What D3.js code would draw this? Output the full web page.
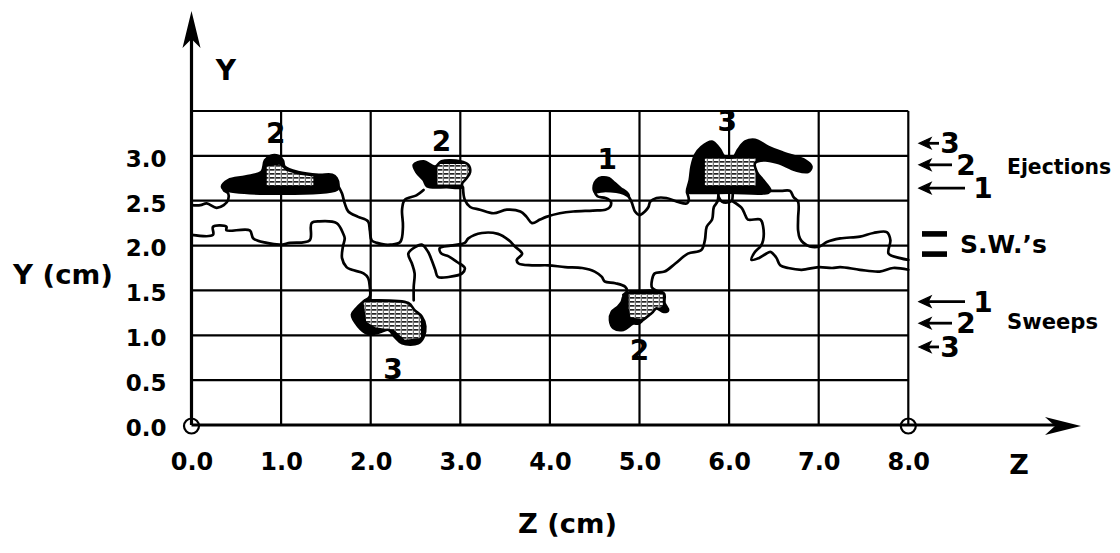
<!DOCTYPE html>
<html><head><meta charset="utf-8">
<script src="https://cdn.jsdelivr.net/npm/d3@7"></script>
<style>
body{margin:0;background:#fff}
svg{display:block}
text{font-family:"DejaVu Sans",sans-serif;font-weight:bold;fill:#000}
</style>
</head><body>
<svg id="chart" width="1120" height="553"></svg>
<script>
// ---------- data ----------
const zTicks = [0,1,2,3,4,5,6,7,8];
const zTickLabels = ["0.0","1.0","2.0","3.0","4.0","5.0","6.0","7.0","8.0"];
const yTicks = [0,0.5,1.0,1.5,2.0,2.5,3.0];
const yTickLabels = ["0.0","0.5","1.0","1.5","2.0","2.5","3.0"];
const gridZ = [1,2,3,4,5,6,7,8];
const gridY = [0.5,1.0,1.5,2.0,2.5,3.0,3.5];

// interface traces (z, y) in cm
const line1a = [[0,2.45],[0.1,2.45],[0.17,2.47],[0.28,2.42],[0.36,2.45],[0.41,2.51],[0.41,2.58],[0.36,2.62],[0.37,2.66]];
const line1b = [[1.64,2.66],[1.68,2.58],[1.71,2.47],[1.75,2.38],[1.86,2.32],[1.97,2.27],[1.99,2.17],[2.01,2.06],[2.07,2.03],[2.16,2.01],[2.22,2.01],[2.33,2.04],[2.36,2.21],[2.35,2.40],[2.38,2.51],[2.51,2.56],[2.59,2.62]];
const line1c = [[3.03,2.65],[3.05,2.51],[3.11,2.43],[3.22,2.40],[3.37,2.36],[3.52,2.40],[3.67,2.38],[3.74,2.32],[3.80,2.25],[3.89,2.29],[3.96,2.32],[4.11,2.36],[4.26,2.38],[4.48,2.39],[4.62,2.40],[4.67,2.43],[4.68,2.49],[4.62,2.53],[4.53,2.55],[4.50,2.60]];
const line1d = [[4.87,2.56],[4.91,2.49],[4.93,2.43],[4.95,2.38],[5.0,2.34],[5.06,2.38],[5.10,2.43],[5.12,2.49],[5.19,2.53],[5.30,2.53],[5.42,2.49],[5.53,2.47],[5.55,2.51],[5.53,2.59]];
const line1e = [[6.46,2.61],[6.58,2.61],[6.68,2.61],[6.72,2.54],[6.77,2.49],[6.77,2.30],[6.77,2.17],[6.79,2.08],[6.83,2.03],[6.90,1.99],[7.01,1.99],[7.09,2.04],[7.24,2.08],[7.46,2.10],[7.61,2.14],[7.76,2.15],[7.80,2.06],[7.78,1.91],[7.91,1.86],[8.0,1.84]];
const line2 = [[0,2.12],[0.24,2.12],[0.24,2.21],[0.39,2.21],[0.39,2.17],[0.65,2.17],[0.69,2.08],[0.84,2.03],[0.99,2.01],[1.10,2.03],[1.32,2.06],[1.34,2.25],[1.43,2.27],[1.62,2.25],[1.69,2.14],[1.71,2.08],[1.69,1.99],[1.68,1.86],[1.73,1.76],[1.79,1.73],[1.92,1.69],[1.97,1.64],[1.99,1.54],[1.99,1.43],[1.94,1.39]];
const line3 = [[2.48,1.39],[2.48,1.54],[2.49,1.69],[2.46,1.80],[2.42,1.91],[2.49,1.98],[2.57,2.01],[2.64,1.93],[2.68,1.84],[2.72,1.73],[2.75,1.65],[2.87,1.65],[3.02,1.69],[3.05,1.75],[2.96,1.82],[2.87,1.88],[2.79,1.91],[2.77,1.97],[2.89,2.0],[3.05,2.03],[3.09,2.08],[3.24,2.14],[3.42,2.13],[3.54,2.06],[3.61,1.99],[3.69,1.91],[3.63,1.84],[3.65,1.80],[3.80,1.78],[3.98,1.78],[4.17,1.76],[4.36,1.75],[4.50,1.71],[4.58,1.65],[4.61,1.60],[4.73,1.58],[4.84,1.54],[4.86,1.49],[4.82,1.45]];
const line4 = [[5.27,1.40],[5.23,1.47],[5.14,1.53],[5.14,1.62],[5.17,1.69],[5.28,1.71],[5.40,1.80],[5.54,1.91],[5.69,1.95],[5.73,2.06],[5.75,2.21],[5.81,2.29],[5.83,2.43],[5.87,2.49],[5.88,2.55],[5.88,2.60]];
const loopE3 = [[5.88,2.55],[5.92,2.49],[5.98,2.48],[6.03,2.50],[6.04,2.56],[6.04,2.60]];
const line6 = [[6.03,2.50],[6.14,2.42],[6.18,2.34],[6.21,2.29],[6.35,2.29],[6.38,2.21],[6.38,2.06],[6.35,1.99],[6.29,1.93],[6.25,1.84],[6.33,1.86],[6.40,1.90],[6.46,1.93],[6.49,1.91],[6.53,1.86],[6.57,1.78],[6.66,1.75],[6.81,1.73],[7.0,1.76],[7.15,1.75],[7.24,1.76],[7.46,1.73],[7.68,1.71],[7.83,1.75],[8.0,1.73]];

// events (blobs) and their stippled cores
const blobE2a = [[0.34,2.66],[0.41,2.73],[0.6,2.77],[0.78,2.82],[0.82,2.95],[0.88,3.0],[0.97,3.0],[1.02,2.95],[1.04,2.88],[1.19,2.82],[1.42,2.79],[1.57,2.79],[1.62,2.75],[1.64,2.66],[1.62,2.62],[0.37,2.62]];
const coreE2a = [[0.84,2.88],[0.98,2.9],[1.06,2.83],[1.2,2.79],[1.36,2.77],[1.36,2.67],[0.84,2.67]];
const blobE2b = [[2.48,2.90],[2.59,2.94],[2.72,2.88],[2.79,2.94],[3.0,2.94],[3.09,2.90],[3.11,2.82],[3.07,2.75],[3.02,2.69],[3.02,2.65],[2.85,2.65],[2.63,2.66],[2.59,2.73],[2.51,2.82]];
const coreE2b = [[2.74,2.91],[3.1,2.91],[3.1,2.68],[2.74,2.68]];
const blobE1 = [[4.50,2.60],[4.49,2.67],[4.52,2.73],[4.58,2.76],[4.66,2.75],[4.72,2.70],[4.79,2.64],[4.86,2.59],[4.88,2.55],[4.82,2.58],[4.74,2.60],[4.62,2.61]];
const blobE3 = [[5.53,2.60],[5.56,2.73],[5.58,2.88],[5.62,3.01],[5.69,3.10],[5.81,3.16],[5.84,3.14],[5.90,3.07],[5.95,2.99],[6.05,2.99],[6.10,3.07],[6.18,3.16],[6.29,3.18],[6.44,3.10],[6.62,3.03],[6.85,2.95],[6.92,2.88],[6.88,2.82],[6.74,2.84],[6.55,2.92],[6.40,2.95],[6.29,2.92],[6.31,2.82],[6.38,2.73],[6.46,2.62],[6.44,2.59],[6.0,2.59],[5.55,2.59]];
const coreE3 = [[5.73,2.97],[6.30,2.97],[6.30,2.67],[5.73,2.67]];
const blobS3 = [[1.94,1.39],[2.01,1.39],[2.42,1.36],[2.49,1.28],[2.57,1.21],[2.61,1.10],[2.59,0.98],[2.53,0.91],[2.35,0.91],[2.27,0.98],[2.20,1.06],[2.12,1.04],[2.05,1.02],[1.96,1.02],[1.86,1.10],[1.79,1.23],[1.84,1.30],[1.90,1.36]];
const coreS3 = [[1.92,1.37],[2.45,1.37],[2.56,1.2],[2.56,0.97],[2.38,0.95],[2.26,1.06],[2.05,1.09],[1.95,1.15]];
const blobS2 = [[4.86,1.47],[5.27,1.47],[5.28,1.36],[5.32,1.28],[5.27,1.26],[5.19,1.30],[5.14,1.25],[5.04,1.17],[4.99,1.13],[4.93,1.13],[4.82,1.06],[4.71,1.08],[4.67,1.17],[4.69,1.26],[4.76,1.32],[4.80,1.37],[4.82,1.43]];
const coreS2 = [[4.88,1.46],[5.26,1.46],[5.26,1.33],[5.12,1.24],[5.02,1.18],[4.9,1.2],[4.88,1.3]];

// event number labels
const eventLabels = ["2","2","1","3","3","2"];
const eventPos = [[0.94,3.26],[2.79,3.17],[4.64,2.97],[5.98,3.39],[2.25,0.62],[5.0,0.84]];

// right-side annotations
const ejectLabels = ["3","2","1"];
const ejectLevels = [3.14,2.90,2.64];
const sweepLabels = ["1","2","3"];
const sweepLevels = [1.375,1.135,0.87];
const swLevels = [2.13,1.905];

// ---------- drawing ----------
const svg = d3.select("#chart");
const x = d3.scaleLinear().domain([0,8]).range([191.5,908.3]);
const y = d3.scaleLinear().domain([0,3.5]).range([425,111]);

const defs = svg.append("defs");
const pat = defs.append("pattern").attr("id","stip").attr("patternUnits","userSpaceOnUse")
  .attr("width",6).attr("height",4);
pat.append("rect").attr("width",6).attr("height",4).attr("fill","#fff");
pat.append("rect").attr("x",0).attr("y",1.0).attr("width",4.5).attr("height",1.7).attr("fill","#222");
pat.append("rect").attr("x",4.8).attr("y",0).attr("width",1.1).attr("height",4).attr("fill","#666");

// grid
const grid = svg.append("g").attr("stroke","#000").attr("stroke-width",2.2);
grid.selectAll("line.v").data(gridZ).join("line").attr("class","v")
  .attr("x1",d=>x(d)).attr("x2",d=>x(d)).attr("y1",y(0)).attr("y2",y(3.5));
grid.selectAll("line.h").data(gridY).join("line").attr("class","h")
  .attr("x1",x(0)).attr("x2",x(8)).attr("y1",d=>y(d)).attr("y2",d=>y(d));

// interface lines
const lineGen = d3.line().x(d=>x(d[0])).y(d=>y(d[1])).curve(d3.curveCatmullRom.alpha(0.5));
const traces = [line1a,line1b,line1c,line1d,line1e,line2,line3,line4,loopE3,line6];
svg.append("g").selectAll("path").data(traces).join("path")
  .attr("d",lineGen).attr("fill","none").attr("stroke","#000")
  .attr("stroke-width",2.7).attr("stroke-linejoin","round").attr("stroke-linecap","round");

// blobs
const blobGen = d3.line().x(d=>x(d[0])).y(d=>y(d[1])).curve(d3.curveCatmullRomClosed.alpha(0.5));
const coreGen = d3.line().x(d=>x(d[0])).y(d=>y(d[1])).curve(d3.curveLinearClosed);
const blobs = [
  {id:"e2a", shape:blobE2a, core:coreE2a},
  {id:"e2b", shape:blobE2b, core:coreE2b},
  {id:"e1",  shape:blobE1,  core:null},
  {id:"e3",  shape:blobE3,  core:coreE3},
  {id:"s3",  shape:blobS3,  core:coreS3},
  {id:"s2",  shape:blobS2,  core:coreS2}
];
blobs.forEach(b=>{
  defs.append("clipPath").attr("id","clip-"+b.id).append("path").attr("d",blobGen(b.shape));
  const g = svg.append("g");
  g.append("path").attr("d",blobGen(b.shape)).attr("fill","#000");
  if(b.core){
    g.append("path").attr("d",coreGen(b.core)).attr("fill","url(#stip)")
      .attr("clip-path","url(#clip-"+b.id+")");
  }
  g.append("path").attr("d",blobGen(b.shape)).attr("fill","none").attr("stroke","#000").attr("stroke-width",2.6);
});

// event labels
svg.append("g").selectAll("text").data(eventLabels).join("text")
  .attr("x",(d,i)=>x(eventPos[i][0])).attr("y",(d,i)=>y(eventPos[i][1]))
  .attr("dy","0.36em").attr("text-anchor","middle").attr("font-size",28).text(d=>d);

// axes lines
svg.append("line").attr("x1",x(0)).attr("x2",x(0)).attr("y1",y(0)).attr("y2",30)
  .attr("stroke","#000").attr("stroke-width",3.2);
svg.append("path").attr("d",`M${x(0)},11 L${x(0)-9},48 L${x(0)},39 L${x(0)+9},48 Z`).attr("fill","#000");
svg.append("line").attr("x1",x(0)).attr("x2",1062).attr("y1",y(0)).attr("y2",y(0))
  .attr("stroke","#000").attr("stroke-width",2.8);
svg.append("path").attr("d",`M1081,${y(0)+1} L1045,${y(0)-8} L1055,${y(0)+1} L1045,${y(0)+10} Z`).attr("fill","#000");
svg.selectAll("circle.org").data([0,8]).join("circle").attr("class","org")
  .attr("cx",d=>x(d)).attr("cy",y(0)+1).attr("r",7.5)
  .attr("fill","none").attr("stroke","#000").attr("stroke-width",2.2);

// tick labels via axes
const gx = svg.append("g").attr("transform",`translate(0,${y(0)})`)
  .call(d3.axisBottom(x).tickValues(zTicks).tickFormat((d,i)=>zTickLabels[i]).tickSize(0).tickPadding(28));
gx.select(".domain").remove();
gx.attr("font-family","DejaVu Sans").attr("font-size",24).attr("font-weight","bold");
gx.selectAll("text").attr("fill","#000");

const gy = svg.append("g").attr("transform",`translate(${x(0)},3)`)
  .call(d3.axisLeft(y).tickValues(yTicks).tickFormat((d,i)=>yTickLabels[i]).tickSize(0).tickPadding(25));
gy.select(".domain").remove();
gy.attr("font-family","DejaVu Sans").attr("font-size",23).attr("font-weight","bold");
gy.selectAll("text").attr("fill","#000");

// axis titles
svg.append("text").attr("x",226).attr("y",80).attr("text-anchor","middle").attr("font-size",28).text("Y");
svg.append("text").attr("x",1019).attr("y",474).attr("text-anchor","middle").attr("font-size",27).text("Z");
svg.append("text").attr("x",13).attr("y",284).attr("font-size",26).attr("textLength",100)
  .attr("lengthAdjust","spacingAndGlyphs").text("Y (cm)");
svg.append("text").attr("x",518).attr("y",533).attr("font-size",27).attr("textLength",99)
  .attr("lengthAdjust","spacingAndGlyphs").text("Z (cm)");

// right-side annotations
const arrowLen = [19,32,45];
const labelX = [950,966,983];
function arrowRow(g, lvl, len, lab, lx){
  const yy = y(lvl);
  g.append("line").attr("x1",925).attr("x2",920+len).attr("y1",yy).attr("y2",yy)
    .attr("stroke","#000").attr("stroke-width",2.8);
  g.append("path").attr("d",`M919,${yy} L931,${yy-5.5} L928,${yy} L931,${yy+5.5} Z`).attr("fill","#000")
    .attr("stroke","#000").attr("stroke-width",1.2);
  g.append("text").attr("x",lx).attr("y",yy).attr("dy","0.36em").attr("text-anchor","middle")
    .attr("font-size",28).text(lab);
}
const ann = svg.append("g");
ejectLabels.forEach((lab,i)=>arrowRow(ann, ejectLevels[i], arrowLen[i], lab, labelX[i]));
sweepLabels.forEach((lab,i)=>arrowRow(ann, sweepLevels[i], arrowLen[2-i], lab, labelX[2-i]));
ann.append("text").attr("x",1007).attr("y",y(2.88)).attr("dy","0.36em").attr("font-size",21)
  .attr("textLength",104).attr("lengthAdjust","spacingAndGlyphs").text("Ejections");
ann.append("text").attr("x",1007).attr("y",y(1.15)).attr("dy","0.36em").attr("font-size",21)
  .attr("textLength",91).attr("lengthAdjust","spacingAndGlyphs").text("Sweeps");
ann.selectAll("rect.sw").data(swLevels).join("rect").attr("class","sw")
  .attr("x",922).attr("width",25).attr("y",d=>y(d)-2.8).attr("height",5.6).attr("fill","#000");
ann.append("text").attr("x",960).attr("y",y(2.02)).attr("dy","0.36em").attr("font-size",25)
  .attr("textLength",87).attr("lengthAdjust","spacingAndGlyphs").text("S.W.\u2019s");
</script>
</body></html>
